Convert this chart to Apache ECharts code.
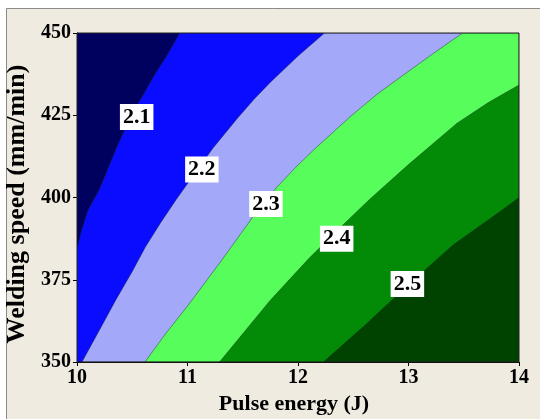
<!DOCTYPE html>
<html>
<head>
<meta charset="utf-8">
<script src="https://cdn.jsdelivr.net/npm/echarts@6/dist/echarts.min.js"></script>
<style>html,body{margin:0;padding:0;background:#fff;}#c{width:540px;height:419px;}</style>
</head>
<body>
<div id="c"></div>
<script>
// Axis ranges / ticks
var xMin = 10, xMax = 14, xStep = 1;
var yMin = 350, yMax = 450, yStep = 25;

// Contour levels and boundary curves (data coordinates [pulse energy, welding speed])
var levels = ['2.1', '2.2', '2.3', '2.4', '2.5'];
var boundary21 = [[10, 384.6], [10.04, 390], [10.1, 396.2], [10.2, 402.3], [10.36, 415.3], [10.5, 425.7], [10.6, 431.2], [10.69, 436.6], [10.81, 443], [10.93, 450]];
var boundary22 = [[10.045, 350], [10.2, 359.5], [10.35, 368.8], [10.5, 377.5], [10.62, 385], [10.76, 392.5], [10.9, 399.5], [11.07, 407.5], [11.23, 415], [11.45, 424], [11.6, 429.8], [11.75, 435], [12.0, 443], [12.24, 450]];
var boundary23 = [[10.615, 350], [10.8, 358.5], [11.0, 367], [11.3, 380.5], [11.59, 394], [11.81, 403.2], [11.98, 409.2], [12.14, 414.4], [12.47, 424.5], [12.72, 431.5], [12.99, 438.1], [13.25, 444.4], [13.49, 450]];
var boundary24 = [[11.29, 350], [11.75, 368.8], [12.1, 381.5], [12.34, 389.5], [12.65, 399.5], [13.0, 410], [13.44, 422.6], [13.72, 428.8], [14.0, 434.2]];
var boundary25 = [[12.23, 350], [12.6, 361], [13.0, 373.5], [13.4, 385.5], [13.86, 396.5], [14.0, 400]];
var boundaries = [boundary21, boundary22, boundary23, boundary24, boundary25];

// Contour label anchor points
var labelPoints = [[10.54, 424.5], [11.13, 408.5], [11.71, 398], [12.35, 387.5], [12.99, 373.7]];

var bandColors = ['#00005e', '#0a0cff', '#a4a8f8', '#57fd5a', '#038a06', '#004300'];

function regionPolygon(idx) {
  if (idx === 0) {
    return [[xMin, yMin], [xMin, yMax], [xMax, yMax], [xMax, yMin]];
  }
  var b = boundaries[idx - 1];
  var pts = b.slice();
  var last = b[b.length - 1], first = b[0];
  if (last[1] === yMax) pts.push([xMax, yMax]);
  pts.push([xMax, yMin]);
  if (first[0] === xMin && first[1] > yMin) pts.push([xMin, yMin]);
  return pts;
}

var regionData = bandColors.map(function (c, i) { return i; });

var chart = echarts.init(document.getElementById('c'), null, {renderer: 'canvas'});
var serif = '"Liberation Serif", "DejaVu Serif", serif';

chart.setOption({
  animation: false,
  backgroundColor: '#ffffff',
  graphic: [{
    type: 'rect', z: -10, silent: true,
    shape: {x: 6.5, y: 8.5, width: 540, height: 420},
    style: {fill: '#efebe1', stroke: '#8a8a8a', lineWidth: 1}
  }],
  grid: {left: 77, right: 21, top: 33, bottom: 57, outerBoundsMode: 'none', containLabel: false, show: true, borderColor: '#222', borderWidth: 1, backgroundColor: 'transparent', z: 10},
  xAxis: {
    type: 'value', min: xMin, max: xMax, interval: xStep,
    name: 'Pulse energy (J)', nameLocation: 'middle', nameGap: 29,
    nameTextStyle: {fontFamily: serif, fontWeight: 'bold', fontSize: 22, color: '#000', padding: [0, 8, 0, 0]},
    axisLine: {show: true, lineStyle: {color: '#000'}},
    axisTick: {show: true, length: 4, lineStyle: {color: '#000'}},
    axisLabel: {fontFamily: serif, fontWeight: 'bold', fontSize: 20, color: '#000', margin: 6},
    splitLine: {show: false}
  },
  yAxis: {
    type: 'value', min: yMin, max: yMax, interval: yStep,
    name: 'Welding speed (mm/min)', nameLocation: 'middle', nameGap: 44,
    nameTextStyle: {fontFamily: serif, fontWeight: 'bold', fontSize: 26, color: '#000', padding: [0, 13, 0, 0]},
    axisLine: {show: true, lineStyle: {color: '#000'}},
    axisTick: {show: true, length: 4, lineStyle: {color: '#000'}},
    axisLabel: {fontFamily: serif, fontWeight: 'bold', fontSize: 20, color: '#000', margin: 6},
    splitLine: {show: false}
  },
  series: [{
    type: 'custom',
    clip: true,
    silent: true,
    data: regionData,
    renderItem: function (params, api) {
      var idx = params.dataIndex;
      var pts = regionPolygon(idx).map(function (p) { return api.coord(p); });
      return {
        type: 'polygon',
        shape: {points: pts},
        style: {fill: bandColors[idx], stroke: idx === 0 ? null : 'rgba(20,40,40,0.55)', lineWidth: 0.8}
      };
    },
    z: 1
  }, {
    type: 'scatter',
    silent: true,
    symbolSize: 0,
    itemStyle: {opacity: 1},
    emphasis: {disabled: true},
    data: labelPoints.map(function (p, i) { return {value: p, name: levels[i]}; }),
    label: {
      show: true, position: 'inside', formatter: '{b}', opacity: 1,
      fontFamily: serif, fontWeight: 'bold', fontSize: 22, color: '#000',
      backgroundColor: '#ffffff', padding: [3, 3, 1, 3]
    },
    z: 5
  }]
});
</script>
</body>
</html>
